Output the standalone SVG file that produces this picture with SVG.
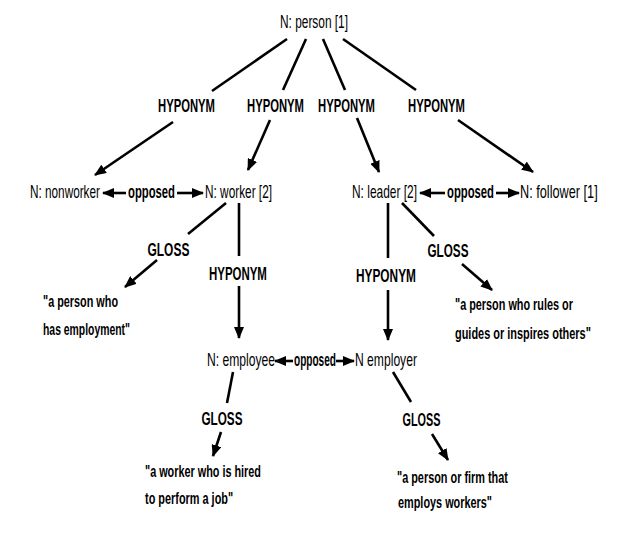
<svg xmlns="http://www.w3.org/2000/svg" width="624" height="550" viewBox="0 0 624 550">
<style>
text{font-family:"Liberation Sans",Arial,sans-serif;fill:#000}
.node{font-size:18px}
.lbl{font-size:19px;font-weight:bold}
.gl{font-size:17px;font-weight:bold}
.e{stroke:#000;stroke-width:2.6;fill:none}
</style>
<defs>
<marker id="ah" markerUnits="userSpaceOnUse" markerWidth="12" markerHeight="10" refX="11" refY="5" orient="auto">
<path d="M0,0 L12,5 L0,10 z" fill="#000"/>
</marker>
</defs>
<rect width="624" height="550" fill="#fff"/>
<g id="connectors">
<line class="e" x1="287" y1="39" x2="212" y2="91"/>
<line class="e" x1="173" y1="122" x2="95" y2="175" marker-end="url(#ah)"/>
<line class="e" x1="306" y1="39" x2="283" y2="90"/>
<line class="e" x1="270" y1="120" x2="248" y2="170" marker-end="url(#ah)"/>
<line class="e" x1="323" y1="39" x2="345" y2="90"/>
<line class="e" x1="357" y1="118" x2="379" y2="172" marker-end="url(#ah)"/>
<line class="e" x1="343" y1="39" x2="416" y2="90"/>
<line class="e" x1="458" y1="120" x2="533" y2="172" marker-end="url(#ah)"/>
<text class="lbl" transform="translate(158,112) scale(0.593,1)">HYPONYM</text>
<text class="lbl" transform="translate(247,112) scale(0.593,1)">HYPONYM</text>
<text class="lbl" transform="translate(318,112) scale(0.593,1)">HYPONYM</text>
<text class="lbl" transform="translate(408,112) scale(0.593,1)">HYPONYM</text>
<line class="e" x1="126" y1="193" x2="103" y2="193" marker-end="url(#ah)"/>
<line class="e" x1="177" y1="193" x2="203" y2="193" marker-end="url(#ah)"/>
<text class="lbl" transform="translate(128,198) scale(0.594,1)">opposed</text>
<line class="e" x1="445" y1="193" x2="420" y2="193" marker-end="url(#ah)"/>
<line class="e" x1="496" y1="193" x2="519" y2="193" marker-end="url(#ah)"/>
<text class="lbl" transform="translate(447,198) scale(0.594,1)">opposed</text>
<line class="e" x1="226" y1="203" x2="188" y2="234"/>
<line class="e" x1="157" y1="260" x2="125" y2="287" marker-end="url(#ah)"/>
<text class="lbl" transform="translate(147.5,256) scale(0.63,1)">GLOSS</text>
<line class="e" x1="239" y1="203" x2="239" y2="256"/>
<line class="e" x1="239" y1="286" x2="239" y2="338" marker-end="url(#ah)"/>
<text class="lbl" transform="translate(209,280) scale(0.603,1)">HYPONYM</text>
<line class="e" x1="388" y1="203" x2="388" y2="258"/>
<line class="e" x1="388" y1="290" x2="388" y2="340" marker-end="url(#ah)"/>
<text class="lbl" transform="translate(356,282) scale(0.624,1)">HYPONYM</text>
<line class="e" x1="402" y1="203" x2="434" y2="236"/>
<line class="e" x1="462" y1="264" x2="492" y2="290" marker-end="url(#ah)"/>
<text class="lbl" transform="translate(427.5,257) scale(0.616,1)">GLOSS</text>
<line class="e" x1="293" y1="361" x2="275" y2="361" marker-end="url(#ah)"/>
<line class="e" x1="336" y1="361" x2="354" y2="361" marker-end="url(#ah)"/>
<text class="lbl" transform="translate(294,366) scale(0.53,1)">opposed</text>
<line class="e" x1="233" y1="372" x2="227" y2="403"/>
<line class="e" x1="221" y1="432" x2="213" y2="456" marker-end="url(#ah)"/>
<text class="lbl" transform="translate(201.5,425) scale(0.616,1)">GLOSS</text>
<line class="e" x1="393" y1="372" x2="411" y2="402"/>
<line class="e" x1="432" y1="434" x2="448" y2="460" marker-end="url(#ah)"/>
<text class="lbl" transform="translate(402.5,426) scale(0.571,1)">GLOSS</text>
</g>
<g id="person"><text class="node" transform="translate(280,28) scale(0.66,1)">N: person [1]</text></g>
<g id="nonworker"><text class="node" transform="translate(30,198) scale(0.654,1)">N: nonworker</text></g>
<g id="worker"><text class="node" transform="translate(205,198) scale(0.657,1)">N: worker [2]</text></g>
<g id="leader"><text class="node" transform="translate(352,198) scale(0.663,1)">N: leader [2]</text></g>
<g id="follower"><text class="node" transform="translate(520,198) scale(0.706,1)">N: follower [1]</text></g>
<g id="employee"><text class="node" transform="translate(207,366) scale(0.673,1)">N: employee</text></g>
<g id="employer"><text class="node" transform="translate(355,366) scale(0.674,1)">N employer</text></g>
<g id="gloss-worker">
<text class="gl" transform="translate(43,307) scale(0.638,1)">"a person who</text>
<text class="gl" transform="translate(43,335) scale(0.612,1)">has employment"</text>
</g>
<g id="gloss-leader">
<text class="gl" transform="translate(455,310) scale(0.639,1)">"a person who rules or</text>
<text class="gl" transform="translate(455,339) scale(0.644,1)">guides or inspires others"</text>
</g>
<g id="gloss-employee">
<text class="gl" transform="translate(145,477) scale(0.638,1)">"a worker who is hired</text>
<text class="gl" transform="translate(145,504) scale(0.642,1)">to perform a job"</text>
</g>
<g id="gloss-employer">
<text class="gl" transform="translate(397,483) scale(0.64,1)">"a person or firm that</text>
<text class="gl" transform="translate(398,508) scale(0.64,1)">employs workers"</text>
</g>
</svg>
